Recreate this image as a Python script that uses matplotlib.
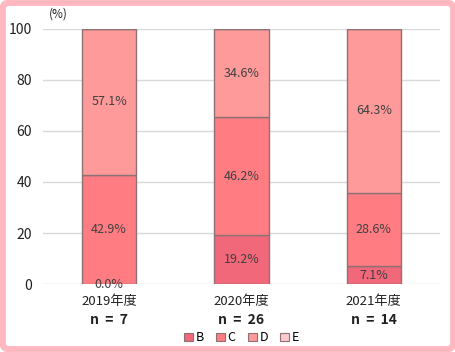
import numpy as np
import matplotlib
matplotlib.use('Agg')
from matplotlib import pyplot as plt
from matplotlib.patches import FancyBboxPatch, Patch
from matplotlib import transforms

plt.rcParams['font.family'] = ['Noto Sans CJK JP', 'DejaVu Sans']

years = ['2019年度', '2020年度', '2021年度']
counts = [7, 26, 14]
series_names = ['B', 'C', 'D', 'E']
vals_b = [0.0, 19.2, 7.1]
vals_c = [42.9, 46.2, 28.6]
vals_d = [57.1, 34.6, 64.3]
vals_e = [0.0, 0.0, 0.0]

colors = ['#f0687a', '#ff7d82', '#ff9a9a', '#ffc9cc']

fig = plt.figure(figsize=(4.56, 3.52), dpi=100)
fig.patch.set_facecolor('white')
border = FancyBboxPatch((0.006, 0.008), 0.988, 0.984,
                        boxstyle='round,pad=0,rounding_size=0.015',
                        transform=fig.transFigure, facecolor='none',
                        edgecolor='#ffb8c0', linewidth=4.5, zorder=0)
fig.patches.append(border)

ax = fig.add_axes([0.094, 0.193, 0.871, 0.725])
x = np.arange(len(years))
bottom = np.zeros(len(years))
all_vals = [vals_b, vals_c, vals_d, vals_e]
for i, vals in enumerate(all_vals):
    vals = np.array(vals)
    bars = ax.bar(x, vals, width=0.41, bottom=bottom, color=colors[i],
                  edgecolor='#8c7275', linewidth=1.0, zorder=3)
    if series_names[i] != 'E':
        labels = []
        for j, v in enumerate(vals):
            if series_names[i] == 'B' or v > 0:
                labels.append('%.1f%%' % v)
            else:
                labels.append('')
        ax.bar_label(bars, labels=labels, label_type='center',
                     fontsize=9, color='#404040', zorder=4)
    bottom += vals

ax.set_xlim(-0.5, 2.5)
ax.set_ylim(0, 100)
ax.set_yticks([0, 20, 40, 60, 80, 100])
ax.yaxis.grid(True, color='#d9d9d9', linewidth=1.0, zorder=0)
for s in ax.spines.values():
    s.set_visible(False)
ax.tick_params(axis='y', length=0, pad=8, labelsize=10, colors='#202020')
ax.tick_params(axis='x', length=0, pad=8, labelsize=9.5, colors='#202020')
ax.set_xticks(x)
ax.set_xticklabels(years)

trans = transforms.blended_transform_factory(ax.transData, ax.transAxes)
for xi, n in zip(x, counts):
    ax.text(xi, -0.112, 'n  =  %d' % n, transform=trans, ha='center', va='top',
            fontsize=10, fontweight='bold', color='#202020')

fig.text(0.128, 0.96, '(%)', ha='center', va='center', fontsize=8.5,
         color='#202020')

handles = [Patch(facecolor=c, edgecolor='#8c7275', linewidth=0.8) for c in colors]
fig.legend(handles, series_names, loc='center', bbox_to_anchor=(0.53, 0.04),
           ncol=4, frameon=False, fontsize=9, handlelength=0.7,
           handleheight=0.7, handletextpad=0.2, columnspacing=1.0)

fig.savefig('out.png', dpi=100)
